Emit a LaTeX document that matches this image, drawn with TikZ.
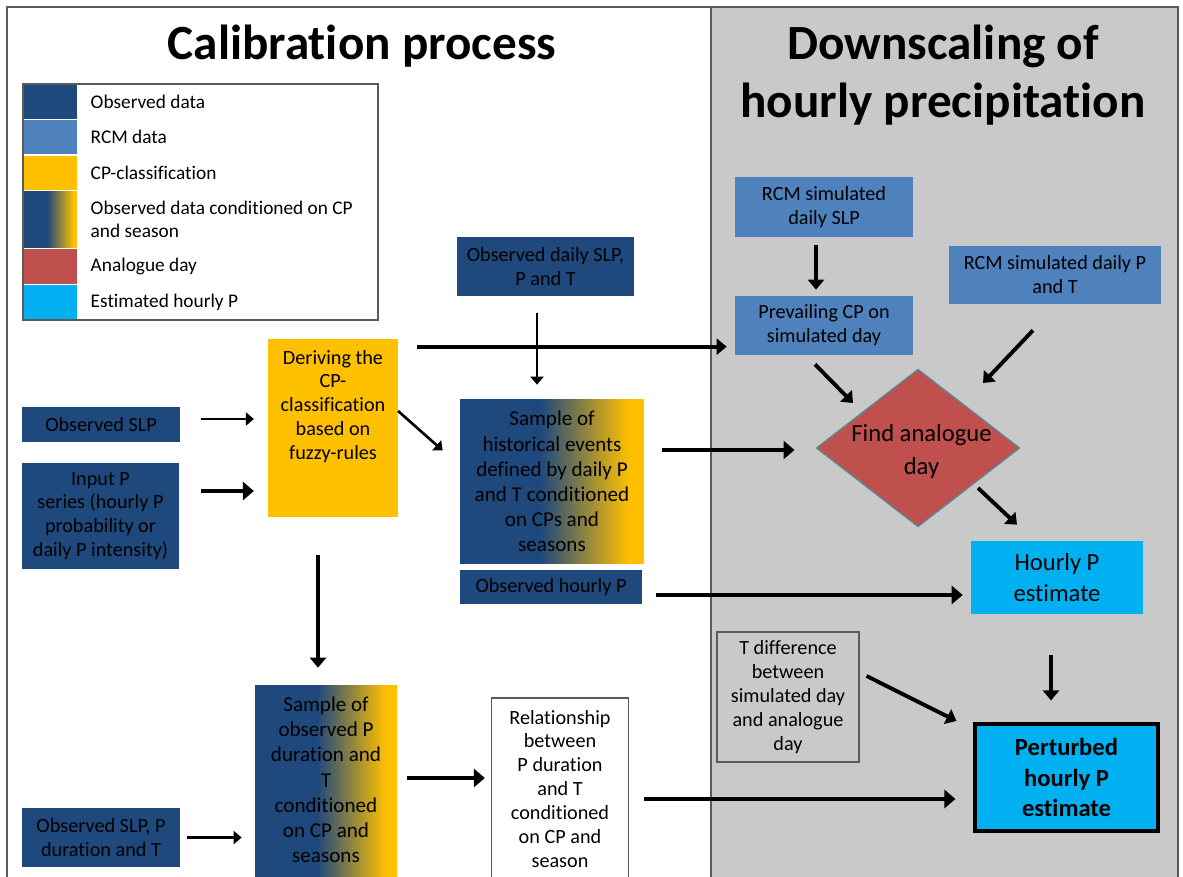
\documentclass[tikz,border=0pt]{standalone}
\usepackage{fontspec}
\setmainfont{Carlito}[Ligatures=NoCommon]
\usetikzlibrary{shapes.geometric, arrows.meta, calc}

\definecolor{obsblue}{HTML}{1F497D}
\definecolor{rcmblue}{HTML}{4F81BD}
\definecolor{cpyellow}{HTML}{FFC000}
\definecolor{anared}{HTML}{C0504D}
\definecolor{estcyan}{HTML}{00B0F0}
\definecolor{panelgray}{HTML}{C9C9C9}
\definecolor{framegray}{HTML}{5A5A5A}
\definecolor{diaedge}{HTML}{3F9AA8}
\pgfdeclarehorizontalshading{cpshade}{100bp}{color(0bp)=(obsblue); color(47bp)=(obsblue); color(71bp)=(cpyellow); color(100bp)=(cpyellow)}

\begin{document}
\begin{tikzpicture}[x=0.02cm, y=-0.02cm,
  font=\fontsize{11.5}{13.6}\selectfont,
  title/.style={align=center, font=\fontsize{28}{33}\selectfont\bfseries},
  obs/.style={rectangle, fill=obsblue, align=center, inner sep=2pt},
  rcm/.style={rectangle, fill=rcmblue, align=center, inner sep=2pt},
  cpbox/.style={rectangle, fill=cpyellow, align=center, inner sep=2pt},
  cond/.style={rectangle, shade, shading=cpshade, align=center, inner sep=2pt,
               font=\fontsize{12}{14.3}\selectfont},
  plain/.style={rectangle, draw=framegray, line width=0.7pt, align=center, inner sep=2pt},
  est/.style={rectangle, fill=estcyan, align=center, inner sep=2pt},
  swatch/.style={rectangle, draw=white, line width=0.6pt, minimum width=1.1cm, inner sep=0pt},
  lgtext/.style={anchor=west, align=left, font=\fontsize{11}{13}\selectfont},
  thinarr/.style={-{Triangle[length=0.16cm, width=0.26cm]}, line width=1.5pt},
  arr/.style={-{Triangle[length=0.2cm, width=0.32cm]}, line width=2.2pt},
  bigarr/.style={-{Triangle[length=0.22cm, width=0.36cm]}, line width=2.8pt}]
  \useasboundingbox (0,0) rectangle (1183,876);

  % the two panels
  \fill[panelgray] (711,7) rectangle (1178,890);
  \draw[framegray, line width=0.8pt] (7,890) -- (7,7) -- (1178,7) -- (1178,890);
  \draw[framegray, line width=0.8pt] (711,7) -- (711,890);
  \node[title] (caltitle) at (362,46) {Calibration process};
  \node[title] (dstitle) at (943,75) {Downscaling of\\hourly precipitation};

  % legend
  \node[swatch, fill=obsblue, minimum height=0.71cm] (lgobs) at (50.5,101.75) {};
  \node[swatch, fill=rcmblue, minimum height=0.71cm] (lgrcm) at (50.5,137.25) {};
  \node[swatch, fill=cpyellow, minimum height=0.71cm] (lgcp) at (50.5,172.75) {};
  \node[swatch, shade, shading=cpshade, minimum height=1.16cm] (lgcond) at (50.5,219.5) {};
  \node[swatch, fill=anared, minimum height=0.715cm] (lgana) at (50.5,266.4) {};
  \node[swatch, fill=estcyan, minimum height=0.715cm] (lgest) at (50.5,302.1) {};
  \node[draw=framegray, line width=0.8pt, minimum width=7.1cm, minimum height=4.72cm,
        inner sep=0pt] (legend) at (200.5,202) {};
  \node[lgtext] (txobs) at ($(lgobs.east)+(6,0)$) {Observed data};
  \node[lgtext] (txrcm) at ($(lgrcm.east)+(6,0)$) {RCM data};
  \node[lgtext] (txcp) at ($(lgcp.east)+(6,0)$) {CP-classification};
  \node[lgtext] (txcond) at ($(lgcond.east)+(6,0)$) {Observed data conditioned on CP\\and season};
  \node[lgtext] (txana) at ($(lgana.east)+(6,0)$) {Analogue day};
  \node[lgtext] (txest) at ($(lgest.east)+(6,0)$) {Estimated hourly P};

  % calibration process
  \node[obs, minimum width=3.54cm, minimum height=1.18cm] (obsdaily) at (545.5,266.5)
    {Observed daily SLP,\\P and T};
  \node[cpbox, minimum width=2.52cm, minimum height=3.56cm] (derive) at (333,428)
    {\parbox[c][3.12cm][t]{2.45cm}{\centering Deriving the\\CP-\\classification\\based on\\fuzzy-rules}};
  \node[obs, minimum width=3.16cm, minimum height=0.7cm] (obsslp) at (101,424.5) {Observed SLP};
  \node[obs, minimum width=3.14cm, minimum height=2.12cm] (inputp) at (100.5,516)
    {Input P\\series (hourly P\\probability or\\daily P intensity)};
  \node[cond, minimum width=3.68cm, minimum height=3.3cm] (sampleh) at (552,481.5)
    {Sample of\\historical events\\defined by daily P\\and T conditioned\\on CPs and\\seasons};
  \node[obs, minimum width=3.64cm, minimum height=0.68cm] (obshp) at (551,587) {Observed hourly P};
  \node[cond, minimum width=2.8cm, minimum height=3.9cm] (samplep) at (326,782.5)
    {\parbox[c][3.42cm][t]{2.7cm}{\centering Sample of\\observed P\\duration and\\T\\conditioned\\on CP and\\seasons}};
  \node[plain, fill=white, minimum width=2.72cm, minimum height=3.72cm] (relation) at (560,791)
    {\parbox[c][3.24cm][t]{2.6cm}{\centering Relationship\\between\\P duration\\and T\\conditioned\\on CP and\\season}};
  \node[obs, minimum width=3.16cm, minimum height=1.18cm] (obsslpt) at (101,837.5)
    {Observed SLP, P\\duration and T};

  % downscaling
  \node[rcm, minimum width=3.56cm, minimum height=1.2cm] (rcmslp) at (824,207)
    {RCM simulated\\daily SLP};
  \node[rcm, minimum width=3.56cm, minimum height=1.18cm] (prevail) at (824,325.5)
    {Prevailing CP on\\simulated day};
  \node[rcm, minimum width=4.24cm, minimum height=1.16cm] (rcmpt) at (1055,275)
    {RCM simulated daily P\\and T};
  \node[diamond, fill=anared, draw=diaedge, line width=0.6pt, aspect=1.29,
        minimum width=4.08cm, minimum height=3.16cm, inner sep=0pt,
        label={[align=center, font=\fontsize{14}{18.5}\selectfont, xshift=2pt, yshift=-2pt]center:Find analogue\\day}]
        (diamond) at (918,448) {};
  \node[est, minimum width=3.44cm, minimum height=1.46cm, font=\fontsize{14}{18}\selectfont]
        (hourly) at (1057,577.5) {Hourly P\\estimate};
  \node[plain, fill=panelgray, minimum width=2.84cm, minimum height=2.6cm] (tdiff) at (788,697)
    {T difference\\between\\simulated day\\and analogue\\day};
  \node[est, draw=black, line width=1.8pt, minimum width=3.66cm, minimum height=2.14cm,
        font=\fontsize{14}{17.6}\selectfont\bfseries] (perturbed) at (1066.5,777.5)
    {Perturbed\\hourly P\\estimate};

  % connectors
  \draw[thinarr, shorten <=0.34cm, shorten >=0.28cm]
    ($(obsdaily.south)+(-8.5,0)$) coordinate (c1) -- (c1 |- sampleh.north);
  \draw[arr, shorten <=0.38cm, shorten >=0.16cm]
    ($(derive.north east)+(0,8)$) coordinate (c2) -- (c2 -| prevail.west);
  \draw[thinarr, shorten <=0.42cm, shorten >=0.28cm]
    ($(obsslp.east)+(0,-5.5)$) coordinate (c3) -- (c3 -| derive.west);
  \draw[bigarr, shorten <=0.44cm, shorten >=0.28cm]
    ($(inputp.east)+(0,-25)$) coordinate (c4) -- (c4 -| derive.west);
  \draw[thinarr] ($(derive.east)+(0,-17)$) -- ($(sampleh.west)+(-17,-31)$);
  \draw[bigarr, shorten <=0.36cm, shorten >=0.42cm]
    ($(sampleh.east)+(0,-31.5)$) coordinate (c6) -- (c6 -| diamond.west);
  \draw[bigarr, shorten <=0.28cm, shorten >=0.16cm]
    ($(obshp.east)+(0,8)$) coordinate (c7) -- (c7 -| hourly.west);
  \draw[arr, shorten <=0.76cm, shorten >=0.34cm]
    ($(derive.south)+(-15,0)$) coordinate (c8) -- (c8 |- samplep.north);
  \draw[bigarr, shorten <=0.2cm, shorten >=0.12cm]
    ($(samplep.east)+(0,-4.5)$) coordinate (c9) -- (c9 -| relation.west);
  \draw[thinarr, shorten <=0.14cm, shorten >=0.26cm]
    (obsslpt.east) -- (obsslpt.east -| samplep.west);
  \draw[bigarr, shorten <=0.3cm, shorten >=0.36cm]
    ($(relation.east)+(0,8)$) coordinate (c11) -- (c11 -| perturbed.west);
  \draw[arr, shorten <=0.16cm, shorten >=0.12cm]
    ($(rcmslp.south)+(-8,0)$) coordinate (c12) -- (c12 |- prevail.north);
  \draw[arr] ($(rcmpt.south)+(-22,26)$) -- ($(diamond.center)+(65,-65)$);
  \draw[arr] ($(prevail.south)+(-9,9)$) -- ($(diamond.center)+(-65,-45)$);
  \draw[arr] ($(diamond.center)+(60,40)$) -- ($(hourly.north)+(-40,-16)$);
  \draw[arr, shorten <=0.82cm, shorten >=0.44cm]
    ($(hourly.south)+(-6,0)$) coordinate (c16) -- (c16 |- perturbed.north);
  \draw[arr] ($(tdiff.east)+(7,-21)$) -- ($(perturbed.west)+(-17,-56.5)$);
\end{tikzpicture}
\end{document}
